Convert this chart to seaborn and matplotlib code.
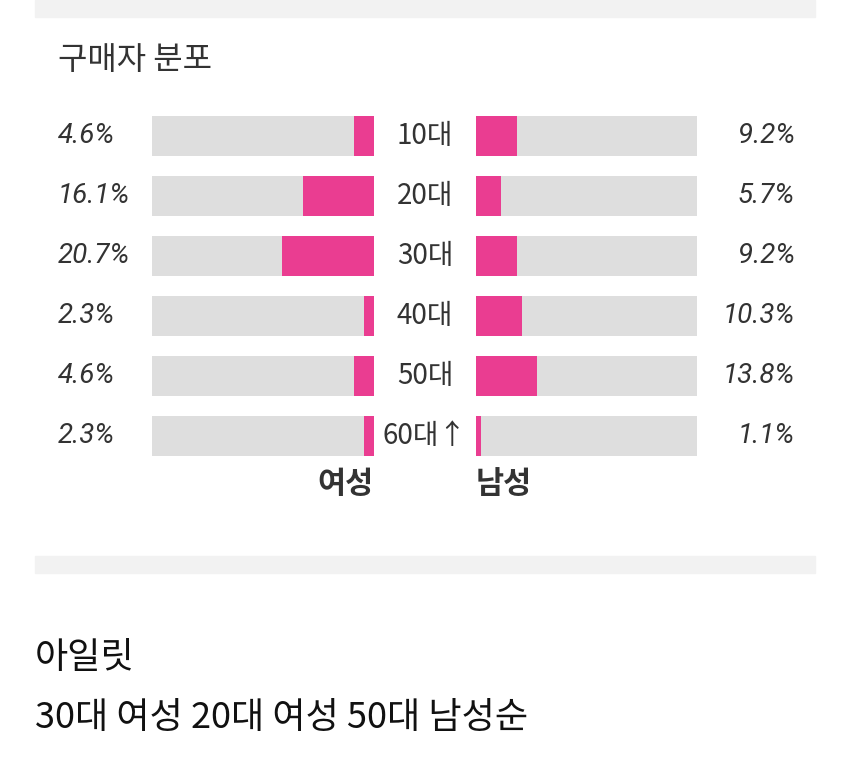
import matplotlib
matplotlib.use('Agg')
import matplotlib.pyplot as plt
import matplotlib.transforms as mtransforms
from matplotlib.patches import Rectangle
import seaborn as sns
import pandas as pd

# ---- data ----
ages = ['10대', '20대', '30대', '40대', '50대', '60대↑']
female = [4.6, 16.1, 20.7, 2.3, 4.6, 2.3]
male = [9.2, 5.7, 9.2, 10.3, 13.8, 1.1]
track_max = 50
title = '구매자 분포'
left_label = '여성'
right_label = '남성'
caption1 = '아일릿'
caption2 = '30대 여성 20대 여성 50대 남성순'

PINK = '#EA3D91'
TRACK = '#DEDEDE'
BAND = '#F2F2F2'
TXT = '#333333'

sns.set_theme(style='white')
plt.rcParams['font.family'] = ['Noto Sans CJK KR', 'DejaVu Sans']

W, H = 850, 770
fig = plt.figure(figsize=(W / 100, H / 100), dpi=100)
fig.patch.set_facecolor('white')

def fx(px):
    return px / W

def fy(py):
    return 1 - py / H

# grey bands
fig.patches.append(Rectangle((fx(35), fy(17)), fx(815) - fx(35), 17 / H,
                             transform=fig.transFigure, color=BAND, zorder=0))
fig.patches.append(Rectangle((fx(35), fy(573)), fx(815) - fx(35), 17 / H,
                             transform=fig.transFigure, color=BAND, zorder=0))

top, bot = 106, 466
axL = fig.add_axes([fx(152), fy(bot), fx(374) - fx(152), (bot - top) / H])
axR = fig.add_axes([fx(476), fy(bot), fx(697) - fx(476), (bot - top) / H])

df = pd.DataFrame({'age': ages, 'female': female, 'male': male,
                   'track': [track_max] * len(ages)})

for ax, col in ((axL, 'female'), (axR, 'male')):
    sns.barplot(data=df, x='track', y='age', orient='h', color=TRACK,
                saturation=1, width=0.667, ax=ax, order=ages, linewidth=0)
    sns.barplot(data=df, x=col, y='age', orient='h', color=PINK,
                saturation=1, width=0.667, ax=ax, order=ages, linewidth=0)
    ax.set_xlim(0, track_max)
    ax.set_ylim(len(ages) - 0.5, -0.5)
    ax.axis('off')
axL.invert_xaxis()

tL = mtransforms.blended_transform_factory(fig.transFigure, axL.transData)
pct_font = ['Roboto', 'DejaVu Sans']
for i, (a, f, m) in enumerate(zip(ages, female, male)):
    axL.text(fx(58), i, f'{f}%', transform=tL, ha='left', va='center',
             fontsize=20, style='italic', color=TXT, family=pct_font)
    axL.text(fx(795), i, f'{m}%', transform=tL, ha='right', va='center',
             fontsize=20, style='italic', color=TXT, family=pct_font)
    axL.text(fx(425), i, a, transform=tL, ha='center', va='center',
             fontsize=20, color=TXT)

fig.text(fx(58), fy(60), title, ha='left', va='center', fontsize=23, color=TXT)
fig.text(fx(374), fy(484), left_label, ha='right', va='center', fontsize=22,
         fontweight='bold', color=TXT)
fig.text(fx(476), fy(484), right_label, ha='left', va='center', fontsize=22,
         fontweight='bold', color=TXT)
fig.text(fx(35), fy(658), caption1, ha='left', va='center', fontsize=26, color='#111111')
fig.text(fx(35), fy(718), caption2, ha='left', va='center', fontsize=26, color='#111111')

fig.savefig('out.png', dpi=100, facecolor='white')
